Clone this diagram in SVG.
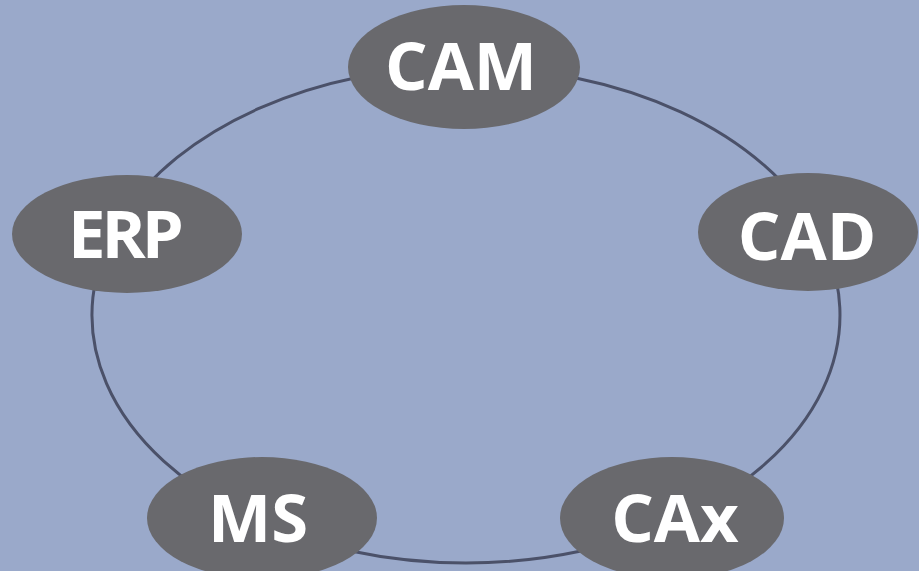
<svg xmlns="http://www.w3.org/2000/svg" width="919" height="571" viewBox="0 0 919 571">
  <style>
    .ring { fill: none; stroke: #4b5169; stroke-width: 3; }
    .node { fill: #69696d; }
    .label { fill: #ffffff; font-family: "Open Sans", "DejaVu Sans", sans-serif; font-weight: 700; font-size: 67px; text-anchor: middle; }
  </style>
  <rect width="919" height="571" fill="#9aa9ca"/>
  <g id="connectors">
    <path class="ring" d="M466 67 A374 248 0 0 1 817.4 230.2"/>
    <path class="ring" d="M817.4 230.2 A374 248 0 0 1 680.5 518.2"/>
    <path class="ring" d="M680.5 518.2 A374 248 0 0 1 251.5 518.2"/>
    <path class="ring" d="M251.5 518.2 A374 248 0 0 1 121.7 218.1"/>
    <path class="ring" d="M121.7 218.1 A374 248 0 0 1 466 67"/>
  </g>
  <g id="node-cam">
    <ellipse class="node" cx="464" cy="67" rx="116" ry="62"/>
    <text class="label" x="461" y="90">CAM</text>
  </g>
  <g id="node-erp">
    <ellipse class="node" cx="127" cy="234" rx="115" ry="59"/>
    <text class="label" x="124" y="258" letter-spacing="-4">ERP</text>
  </g>
  <g id="node-cad">
    <ellipse class="node" cx="808" cy="232" rx="110" ry="59"/>
    <text class="label" x="807" y="260">CAD</text>
  </g>
  <g id="node-ms">
    <ellipse class="node" cx="262" cy="518" rx="115" ry="61"/>
    <text class="label" x="258" y="542">MS</text>
  </g>
  <g id="node-cax">
    <ellipse class="node" cx="672" cy="518" rx="112" ry="61"/>
    <text class="label" x="675" y="542">CAx</text>
  </g>
</svg>
